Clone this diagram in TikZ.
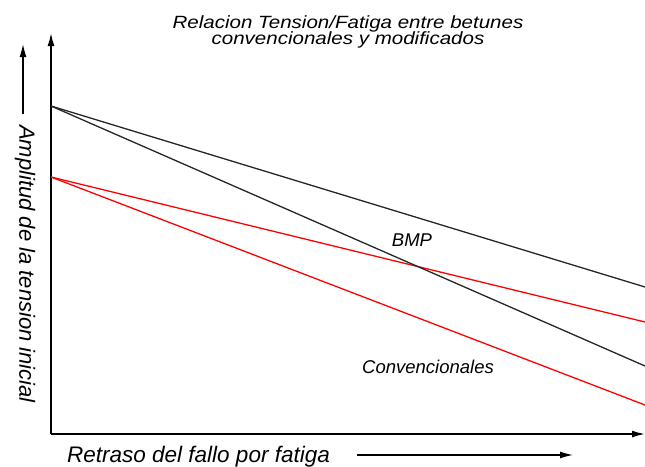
\documentclass[tikz,border=0pt]{standalone}
\usepackage{fontspec}
\setmainfont{Liberation Sans}
\newfontfamily\titlefont[FakeStretch=1.16]{Liberation Sans}
\usetikzlibrary{arrows.meta}

\begin{document}
\begin{tikzpicture}[x=1pt,y=-1pt,cap=butt,
    axisarrow/.style={-{Latex[length=13pt,width=7pt]},black,line width=1.6pt},
    bmpline/.style={black!85,line width=1.3pt},
    convline/.style={red,line width=1.3pt}]
  \useasboundingbox (0,0) rectangle (645,466);

  % Axis
  \coordinate (o) at (51,434);
  \coordinate (ytop) at (51,33);
  \coordinate (xend) at (645,434);
  \draw[axisarrow] (o) -- (ytop);
  \draw[axisarrow] (o) -- (xend);

  % Curves
  \coordinate (bmpstart) at (51,106);
  \coordinate (convstart) at (51,177);
  \coordinate (bmphigh) at (645,287);
  \coordinate (bmplow) at (645,366);
  \coordinate (convhigh) at (645,322);
  \coordinate (convlow) at (645,405);
  \draw[convline] (convstart) -- (convhigh);
  \draw[convline] (convstart) -- (convlow);
  \draw[bmpline] (bmpstart) -- (bmphigh);
  \draw[bmpline] (bmpstart) -- (bmplow);

  % Labels
  \node[inner sep=0pt,anchor=north,align=center,font=\titlefont\itshape\fontsize{17.7}{16.6}\selectfont] (title) at (348,15) {Relacion Tension/Fatiga entre betunes\\convencionales y modificados};
  \node[inner sep=0pt,font=\itshape\fontsize{18.5}{20}\selectfont] (bmp) at (412,240) {BMP};
  \node[inner sep=0pt,font=\itshape\fontsize{18.5}{20}\selectfont] (conv) at (428,367) {Convencionales};
  \node[inner sep=0pt,rotate=-90,font=\itshape\fontsize{22}{24}\selectfont] (ylabel) at (25,264) {Amplitud de la tension inicial};
  \node[inner sep=0pt,anchor=base west,font=\itshape\fontsize{22.5}{24}\selectfont] (xlabel) at (67,462) {Retraso del fallo por fatiga};

  % Arrows next to labels
  \coordinate (ybottom) at (23,114);
  \coordinate (yhead) at (23,44);
  \coordinate (xleft) at (357,455);
  \coordinate (xhead) at (573,455);
  \draw[axisarrow,line width=1.3pt] (ybottom) -- (yhead);
  \draw[axisarrow,line width=1.3pt] (xleft) -- (xhead);

\end{tikzpicture}
\end{document}
